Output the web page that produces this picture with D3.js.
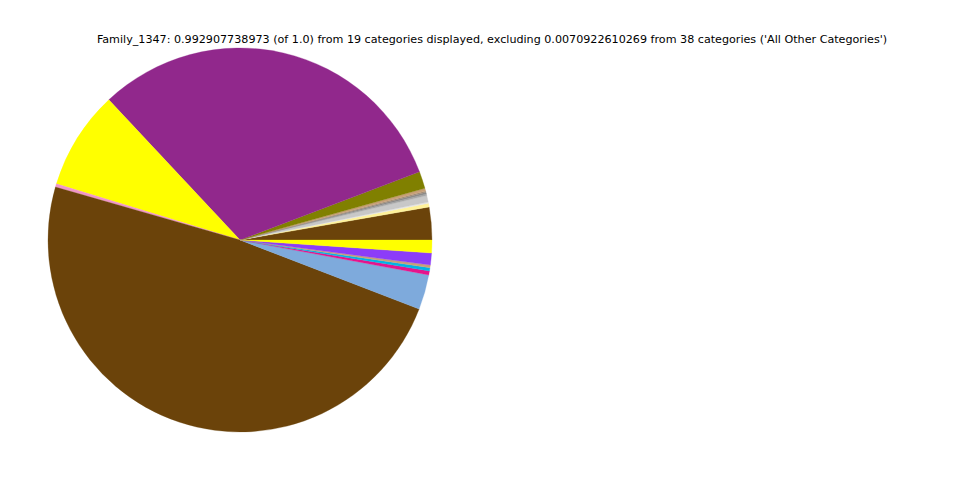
<!DOCTYPE html>
<html>
<head>
<meta charset="utf-8">
<script src="https://cdn.jsdelivr.net/npm/d3@7/dist/d3.min.js"></script>
<style>
html,body{margin:0;padding:0;background:#fff;}
svg{display:block;}
</style>
</head>
<body>
<svg id="chart" width="960" height="480"></svg>
<script>
const titleText = "Family_1347: 0.992907738973 (of 1.0) from 19 categories displayed, excluding 0.0070922610269 from 38 categories ('All Other Categories')";
const categories = ["c1","c2","c3","c4","c5","c6","c7","c8","c9","c10","c11","c12","c13","c14","c15","c16","c17","c18","c19"];
const values = [9.9,1.1,0.4,2.0,0.5,0.5,0.4,0.8,5.2,112.3,29.9,1.0,174.9,10.6,1.2,1.0,0.8,3.6,3.9];
const colors = ["#6b430a","#fff29a","#e6e6e6","#c8c8c8","#a8a8a8","#8c8c8c","#a08c78","#c8a078","#808000","#91288c","#ffff00","#f096c8","#6b430a","#7eaadc","#e6148c","#00b4e6","#c8a078","#8c3cf8","#ffff00"];

const svg = d3.select("#chart");
const cx = 240, cy = 240, R = 192;

const pie = d3.pie().sort(null).value(d => d.v)
  .startAngle(Math.PI/2).endAngle(Math.PI/2 - 2*Math.PI);
const data = categories.map((c,i) => ({c, v: values[i], col: colors[i]}));
const arc = d3.arc().innerRadius(0).outerRadius(R);

svg.append("g").attr("transform", `translate(${cx},${cy})`)
  .selectAll("path").data(pie(data)).join("path")
  .attr("d", arc).attr("fill", d => d.data.col)
  .attr("stroke", d => d.data.col).attr("stroke-width", 0.3);

svg.append("text").attr("x", 492).attr("y", 43)
  .attr("text-anchor", "middle")
  .attr("font-family", "DejaVu Sans").attr("font-size", 11.15)
  .attr("fill", "#000").text(titleText);
</script>
</body>
</html>
